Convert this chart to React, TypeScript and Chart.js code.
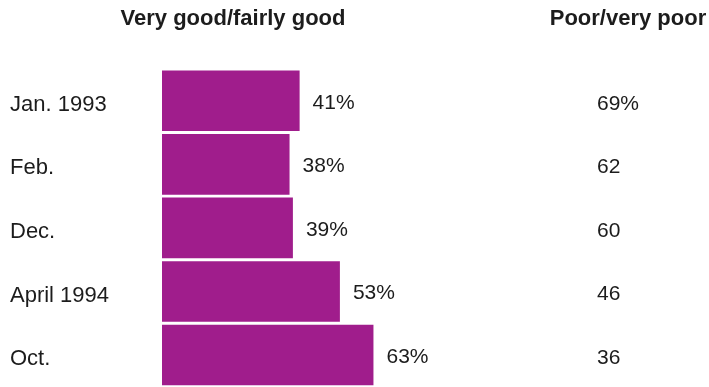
import React, { useEffect, useRef } from "react";
import { Chart, registerables } from "chart.js";

Chart.register(...registerables);

const categories = ["Jan. 1993", "Feb.", "Dec.", "April 1994", "Oct."];
const goodValues = [41, 38, 39, 53, 63];
const goodLabels = ["41%", "38%", "39%", "53%", "63%"];
const poorLabels = ["69%", "62", "60", "46", "36"];
const headerLeft = "Very good/fairly good";
const headerRight = "Poor/very poor";

const BAR_COLOR = "#A01D8C";
const TEXT_COLOR = "#1c1c1c";
const FONT = "'Liberation Sans', Arial, Helvetica, sans-serif";

export default function App() {
  const canvasRef = useRef<HTMLCanvasElement | null>(null);

  useEffect(() => {
    const canvas = canvasRef.current;
    if (!canvas) return;

    const textPlugin = {
      id: "textPlugin",
      afterDatasetsDraw(chart: any) {
        const ctx = chart.ctx;
        const meta = chart.getDatasetMeta(0);
        const yScale = chart.scales.y;
        ctx.save();
        ctx.fillStyle = TEXT_COLOR;
        // headers
        ctx.font = `bold 22px ${FONT}`;
        ctx.textAlign = "center";
        ctx.textBaseline = "alphabetic";
        ctx.fillText(headerLeft, 233, 25);
        ctx.fillText(headerRight, 628, 25);
        // bar value labels
        ctx.font = `21px ${FONT}`;
        ctx.textAlign = "left";
        ctx.textBaseline = "middle";
        meta.data.forEach((bar: any, i: number) => {
          ctx.fillText(goodLabels[i], bar.x + 13, bar.y + 2);
        });
        // right column
        categories.forEach((_c, i) => {
          const y = yScale.getPixelForValue(i);
          ctx.fillText(poorLabels[i], 597, y + 3);
        });
        ctx.restore();
      },
    };

    const chart = new Chart(canvas, {
      type: "bar",
      data: {
        labels: categories,
        datasets: [
          {
            data: goodValues,
            backgroundColor: BAR_COLOR,
            borderWidth: 0,
            barPercentage: 0.953,
            categoryPercentage: 1,
            clip: false as any,
          },
        ],
      },
      options: {
        indexAxis: "y",
        responsive: false,
        animation: false,
        events: [],
        layout: { padding: { left: 10, right: 208, top: 69, bottom: 11 } },
        plugins: {
          legend: { display: false },
          tooltip: { enabled: false },
          title: { display: false },
        },
        scales: {
          x: {
            display: false,
            min: 0,
            max: 101,
          },
          y: {
            grid: { display: false, drawTicks: false },
            border: { display: false },
            afterFit: (scale: any) => {
              scale.width = 152;
            },
            ticks: {
              crossAlign: "far",
              padding: 0,
              labelOffset: 4,
              color: TEXT_COLOR,
              font: { family: FONT, size: 22 },
            },
          },
        },
      },
      plugins: [textPlugin],
    });

    return () => chart.destroy();
  }, []);

  return (
    <div
      style={{
        position: "fixed",
        left: 0,
        top: 0,
        width: 709,
        height: 387,
        overflow: "hidden",
        background: "#ffffff",
      }}
    >
      <canvas ref={canvasRef} width={709} height={400} style={{ display: "block" }} />
    </div>
  );
}
